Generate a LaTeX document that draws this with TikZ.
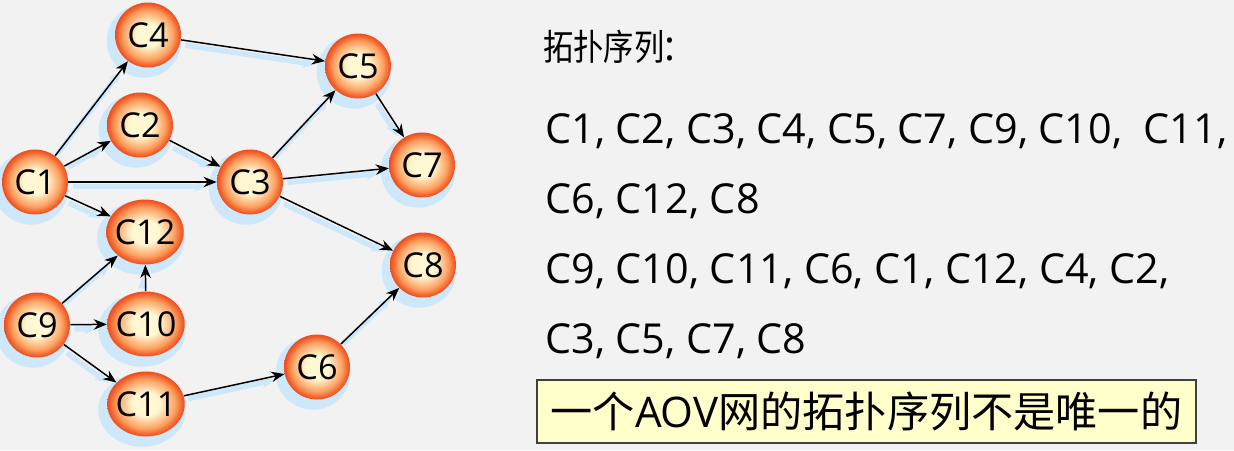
\documentclass[tikz,border=0pt]{standalone}
\usepackage{fontspec}
\setmainfont{Open Sans}
\newfontfamily\cjk{Noto Sans CJK SC}
\newfontfamily\cjknarrow[FakeStretch=0.84]{Noto Sans CJK SC}
\usetikzlibrary{arrows.meta, shadows, shapes.geometric, positioning}
\definecolor{paper}{HTML}{F2F2F2}
\definecolor{halo}{HTML}{CDE8FA}
\definecolor{ballcore}{HTML}{FFF8D2}
\definecolor{ballmid}{HTML}{FCA060}
\definecolor{ballrim}{HTML}{EE4C1C}
\definecolor{notefill}{HTML}{FFFFCC}
\pgfdeclareradialshading{aovball}{\pgfpoint{0bp}{0bp}}{color(0bp)=(ballcore); color(9bp)=(ballcore); color(19bp)=(ballmid); color(23bp)=(ballrim!70!ballmid); color(25bp)=(ballrim); color(50bp)=(ballrim)}

\begin{document}
\begin{tikzpicture}[x=0.02cm, y=-0.02cm,
    vtx/.style={ellipse, shading=aovball, minimum width=1.32cm, minimum height=1.3cm,
      inner xsep=-3pt, inner ysep=0pt, font=\fontsize{19.5}{22}\selectfont,
      drop shadow={shadow xshift=-2pt, shadow yshift=-3pt, shadow scale=1.13, fill=halo, opacity=1}},
    wide/.style={minimum width=1.55cm},
    link/.style={-{Stealth[length=7.5pt, width=6pt]}, line width=0.85pt, black,
      preaction={draw=halo, line width=3pt, shorten <=4pt, shorten >=4pt,
        transform canvas={shift={(-1.5pt,-2.5pt)}}}},
    seq/.style={anchor=base west, inner sep=0pt, font=\fontsize{23.5}{26}\selectfont}]
  \useasboundingbox (0,0) rectangle (1234,450);
  \fill[paper] (0,0) rectangle (1234,450);

  \node[vtx] (C4) at (148,35) {C4};
  \node[vtx] (C2) at (140,125) {C2};
  \node[vtx] (C1) at (35,182) {C1};
  \node[vtx] (C3) at (250,182) {C3};
  \node[vtx] (C5) at (358,66) {C5};
  \node[vtx] (C7) at (422,165) {C7};
  \node[vtx, wide] (C12) at (145,232) {C12};
  \node[vtx] (C8) at (423,265) {C8};
  \node[vtx] (C9) at (37,325) {C9};
  \node[vtx, wide] (C10) at (146,324) {C10};
  \node[vtx, wide] (C11) at (146,404) {C11};
  \node[vtx] (C6) at (317,367) {C6};

  \foreach \a/\b in {C1/C4, C1/C2, C1/C3, C1/C12, C2/C3, C4/C5, C3/C5, C3/C7,
      C3/C8, C5/C7, C6/C8, C9/C12, C9/C10, C9/C11, C10/C12, C11/C6}
    \draw[link] (\a) -- (\b);

  \node[seq] (title) at (543,60) {{\cjknarrow\fontsize{20.5}{22}\selectfont 拓扑序列}:};
  \node[seq] (seqa1) at (545,143) {C1, C2, C3, C4, C5, C7, C9, C10,\ \ C11,};
  \node[seq] (seqa2) at (545,213) {C6, C12, C8};
  \node[seq] (seqb1) at (545,283) {C9, C10, C11, C6, C1, C12, C4, C2,};
  \node[seq] (seqb2) at (545,353) {C3, C5, C7, C8};

  \node[draw=black!75, line width=0.8pt, fill=notefill, minimum width=13.18cm, minimum height=1.26cm,
    font=\fontsize{24}{26}\selectfont] (note) at (866.5,411.5)
    {{\cjk 一个}AOV{\cjk 网的拓扑序列不是唯一的}};
\end{tikzpicture}
\end{document}
